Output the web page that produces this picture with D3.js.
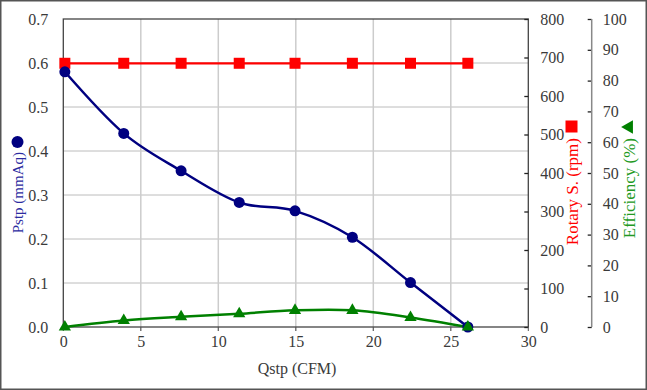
<!DOCTYPE html>
<html>
<head>
<meta charset="utf-8">
<script src="https://cdn.jsdelivr.net/npm/d3@7"></script>
<style>
  body { margin: 0; background: #fff; }
  svg text { font-family: "Liberation Serif", "DejaVu Serif", serif; }
</style>
</head>
<body>
<svg width="647" height="390"></svg>
<script>
// values
var qstp = [0.1, 3.9, 7.6, 11.35, 14.95, 18.65, 22.4, 26.1];
var pstp = [0.58, 0.44, 0.355, 0.283, 0.264, 0.204, 0.101, 0.0];
var rpm = [685, 685, 685, 685, 685, 685, 685, 685];
var eff = [0, 2.1, 3.3, 4.3, 5.4, 5.4, 3.1, 0];

var xTicks = [0, 5, 10, 15, 20, 25, 30];
var pTicks = [0, 0.1, 0.2, 0.3, 0.4, 0.5, 0.6, 0.7];
var rTicks = [0, 100, 200, 300, 400, 500, 600, 700, 800];
var eTicks = [0, 10, 20, 30, 40, 50, 60, 70, 80, 90, 100];

var svg = d3.select("svg");

var pLeft = 63.3, pRight = 528.3, pTop = 19, pBottom = 327;
var effAxisX = 591.7;

var x = d3.scaleLinear().domain([0, 30]).range([pLeft, pRight]);
var yP = d3.scaleLinear().domain([0, 0.7]).range([pBottom, pTop]);
var yR = d3.scaleLinear().domain([0, 800]).range([pBottom, pTop]);
var yE = d3.scaleLinear().domain([0, 100]).range([pBottom, pTop]);

// outer border
svg.append("rect")
    .attr("x", 0.75).attr("y", 0.75)
    .attr("width", 645.5).attr("height", 388.5)
    .attr("fill", "#fff")
    .attr("stroke", "#555")
    .attr("stroke-width", 1.5);

// grid
svg.append("g")
    .selectAll("line")
    .data(pTicks.slice(1, -1))
    .enter()
    .append("line")
    .attr("x1", pLeft).attr("x2", pRight)
    .attr("y1", d => yP(d)).attr("y2", d => yP(d))
    .attr("stroke", "#bcbcbc")
    .attr("stroke-width", 1);

svg.append("g")
    .selectAll("line")
    .data(xTicks.slice(1, -1))
    .enter()
    .append("line")
    .attr("x1", d => x(d)).attr("x2", d => x(d))
    .attr("y1", pTop).attr("y2", pBottom + 4)
    .attr("stroke", "#cccccc")
    .attr("stroke-width", 1.5);

// plot box
svg.append("rect")
    .attr("x", pLeft).attr("y", pTop)
    .attr("width", pRight - pLeft).attr("height", pBottom - pTop)
    .attr("fill", "none")
    .attr("stroke", "#444")
    .attr("stroke-width", 1.3);

// left axis
var ay = svg.append("g")
    .attr("transform", "translate(" + pLeft + ",0)")
    .call(d3.axisLeft(yP).tickValues(pTicks).tickFormat(d3.format(".1f")).tickSize(0).tickPadding(15));

// bottom axis
var ax = svg.append("g")
    .attr("transform", "translate(0," + pBottom + ")")
    .call(d3.axisBottom(x).tickValues(xTicks).tickSize(0).tickPadding(9));

// rpm axis
var ar = svg.append("g")
    .attr("transform", "translate(" + pRight + ",0)")
    .call(d3.axisRight(yR).tickValues(rTicks).tickSize(-4).tickPadding(12));

// efficiency axis
var ae = svg.append("g")
    .attr("transform", "translate(" + effAxisX + ",0)")
    .call(d3.axisRight(yE).tickValues(eTicks).tickSize(-4).tickPadding(11));

[ay, ax, ar, ae].forEach(function(g) {
    g.select(".domain").remove();
    g.selectAll("text")
        .attr("fill", "#3a3a3a")
        .style("font-size", "16px");
    g.selectAll(".tick line").attr("stroke", "#222").attr("stroke-width", 1.3);
});
svg.append("line")
    .attr("x1", effAxisX).attr("x2", effAxisX)
    .attr("y1", pTop).attr("y2", pBottom)
    .attr("stroke", "#888").attr("stroke-width", 1.5);

// x tick marks below the axis
svg.append("g")
    .selectAll("line")
    .data(xTicks)
    .enter()
    .append("line")
    .attr("x1", d => x(d)).attr("x2", d => x(d))
    .attr("y1", pBottom).attr("y2", pBottom + 4)
    .attr("stroke", "#555");

// series
var pts = qstp.map(function(q, i) {
    return { q: q, p: pstp[i], r: rpm[i], e: eff[i] };
});

var smooth = d3.curveCatmullRom.alpha(0);

svg.append("path")
    .attr("d", d3.line().x(d => x(d.q)).y(d => yR(d.r))(pts))
    .attr("fill", "none")
    .attr("stroke", "#ff0000")
    .attr("stroke-width", 2.2);

svg.append("path")
    .attr("d", d3.line().curve(smooth).x(d => x(d.q)).y(d => yP(d.p))(pts))
    .attr("fill", "none")
    .attr("stroke", "#000080")
    .attr("stroke-width", 2.5);

svg.append("path")
    .attr("d", d3.line().curve(smooth).x(d => x(d.q)).y(d => yE(d.e))(pts))
    .attr("fill", "none")
    .attr("stroke", "#008000")
    .attr("stroke-width", 2.5);

svg.append("g")
    .selectAll("rect")
    .data(pts)
    .enter()
    .append("rect")
    .attr("x", d => x(d.q) - 5.5)
    .attr("y", d => yR(d.r) - 5.5)
    .attr("width", 11).attr("height", 11)
    .attr("fill", "#ff0000");

svg.append("g")
    .selectAll("circle")
    .data(pts)
    .enter()
    .append("circle")
    .attr("cx", d => x(d.q))
    .attr("cy", d => yP(d.p))
    .attr("r", 5.5)
    .attr("fill", "#000080");

var tri = d3.symbol().type(d3.symbolTriangle).size(65);
svg.append("g")
    .selectAll("path")
    .data(pts)
    .enter()
    .append("path")
    .attr("transform", d => "translate(" + x(d.q) + "," + yE(d.e) + ")")
    .attr("d", tri)
    .attr("fill", "#008000");

// axis titles
svg.append("text")
    .attr("x", 297).attr("y", 374)
    .attr("text-anchor", "middle")
    .attr("fill", "#3a3a3a")
    .style("font-size", "16px")
    .text("Qstp (CFM)");

svg.append("text")
    .attr("transform", "translate(23,152) rotate(-90)")
    .attr("text-anchor", "end")
    .attr("fill", "#2b2ba0")
    .style("font-size", "15px")
    .text("Pstp (mmAq)");
svg.append("circle")
    .attr("cx", 17.5).attr("cy", 142).attr("r", 6)
    .attr("fill", "#000080");

svg.append("text")
    .attr("transform", "translate(578,138) rotate(-90)")
    .attr("text-anchor", "end")
    .attr("fill", "#ff0000")
    .style("font-size", "17px")
    .text("Rotary S. (rpm)");
svg.append("rect")
    .attr("x", 565.5).attr("y", 120.5)
    .attr("width", 12).attr("height", 12)
    .attr("fill", "#ff0000");

svg.append("text")
    .attr("transform", "translate(635,138) rotate(-90)")
    .attr("text-anchor", "end")
    .attr("fill", "#229922")
    .style("font-size", "17px")
    .text("Efficiency (%)");
svg.append("path")
    .attr("transform", "translate(629,127) rotate(-90)")
    .attr("d", d3.symbol().type(d3.symbolTriangle).size(80))
    .attr("fill", "#008000");
</script>
</body>
</html>
